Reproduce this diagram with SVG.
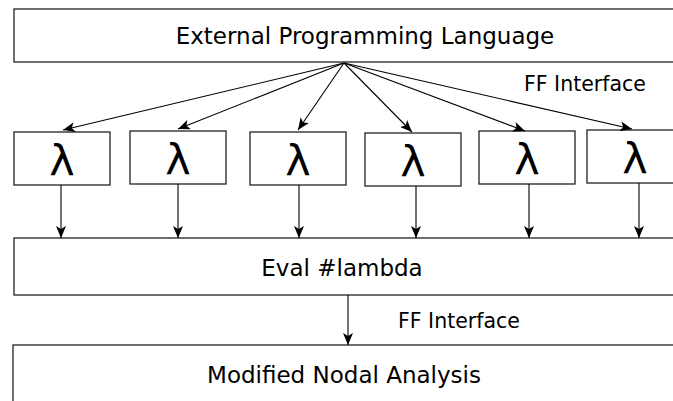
<svg xmlns="http://www.w3.org/2000/svg" width="673" height="401" viewBox="0 0 673 401">
<style>
.box{fill:#fff;stroke:#222;stroke-width:1.3}
.t{font-family:"DejaVu Sans",sans-serif;fill:#000;text-anchor:middle}
.lab{font-family:"DejaVu Sans",sans-serif;fill:#000;font-size:20.5px}
.lam{font-family:"DejaVu Sans",sans-serif;font-size:43px;text-anchor:middle}
.c{stroke:#000;stroke-width:1.1;fill:none;marker-end:url(#ah)}
</style>
<defs>
<marker id="ah" viewBox="0 0 12 10" refX="12" refY="5" markerWidth="12" markerHeight="10" markerUnits="userSpaceOnUse" orient="auto">
<path d="M0,0 L12,5 L0,10 L3,5 z" fill="#000"/>
</marker>
</defs>
<rect width="673" height="401" fill="#fff"/>
<g id="ext">
<rect class="box" x="14" y="9" width="670" height="53"/>
<text class="t" x="365" y="44" font-size="23">External Programming Language</text>
</g>
<g id="lambda1"><rect class="box" x="14" y="132" width="96" height="53"/><text class="lam" x="62" y="176">λ</text></g>
<g id="lambda2"><rect class="box" x="130" y="131" width="96" height="53"/><text class="lam" x="178" y="175">λ</text></g>
<g id="lambda3"><rect class="box" x="250" y="132" width="96" height="53"/><text class="lam" x="298" y="176">λ</text></g>
<g id="lambda4"><rect class="box" x="365" y="133" width="96" height="53"/><text class="lam" x="413" y="177">λ</text></g>
<g id="lambda5"><rect class="box" x="479" y="131" width="96" height="53"/><text class="lam" x="527" y="175">λ</text></g>
<g id="lambda6"><rect class="box" x="587" y="130" width="96" height="53"/><text class="lam" x="635" y="174">λ</text></g>
<g id="eval">
<rect class="box" x="14" y="238" width="670" height="57"/>
<text class="t" x="342" y="276" font-size="23">Eval #lambda</text>
</g>
<g id="mna">
<rect class="box" x="13" y="345" width="670" height="70"/>
<text class="t" x="344" y="383" font-size="23">Modified Nodal Analysis</text>
</g>
<g id="labels">
<text class="lab" x="524" y="91">FF Interface</text>
<text class="lab" x="398" y="328">FF Interface</text>
</g>
<g id="connectors">
<line class="c" x1="344" y1="63" x2="63" y2="130"/>
<line class="c" x1="344" y1="63" x2="178" y2="129"/>
<line class="c" x1="344" y1="63" x2="298" y2="130"/>
<line class="c" x1="344" y1="63" x2="412" y2="132"/>
<line class="c" x1="344" y1="63" x2="525" y2="131"/>
<line class="c" x1="344" y1="63" x2="632" y2="129"/>
<line class="c" x1="61" y1="185" x2="61" y2="238"/>
<line class="c" x1="178" y1="184" x2="178" y2="238"/>
<line class="c" x1="299" y1="185" x2="299" y2="238"/>
<line class="c" x1="416" y1="186" x2="416" y2="238"/>
<line class="c" x1="529" y1="184" x2="529" y2="238"/>
<line class="c" x1="639" y1="183" x2="639" y2="238"/>
<line class="c" x1="348" y1="295" x2="348" y2="345"/>
</g>
</svg>
